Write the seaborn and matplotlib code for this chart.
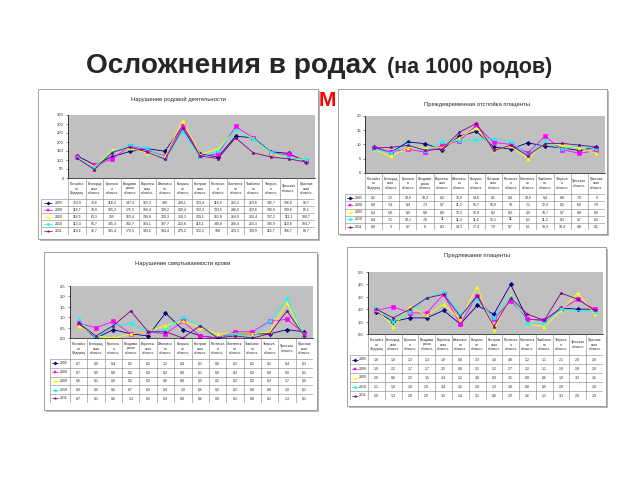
import numpy as np
import pandas as pd
import seaborn as sns
import matplotlib.pyplot as plt
from matplotlib.patches import Rectangle

sns.set_style("white")
plt.rcParams["font.family"] = ["Liberation Sans", "DejaVu Sans"]

years = ["2005", "2008", "2009", "2010", "2011"]
regions = ["Российск\nая\nФедерац", "Белгород\nская\nобласть", "Брянска\nя\nобласть",
           "Владими\nрская\nобласть", "Воронеж\nская\nобласть", "Ивановск\nая\nобласть",
           "Калужск\nая\nобласть", "Костром\nская\nобласть", "Рязанска\nя\nобласть",
           "Смоленск\nая\nобласть", "Тамбовск\nая\nобласть", "Тверска\nя\nобласть",
           "Тульская\nобласть", "Ярослав\nская\nобласть"]
series_colors = ["#000080", "#FF00FF", "#FFFF00", "#00FFFF", "#800080"]
series_markers = ["D", "s", "^", "X", "*"]

# Нарушение родовой деятельности
labor = [
    [123.9, 73.6, 118.3, 147.3, 162.3, 149, 289.1, 133.4, 116.8, 232.2, 223.6, 145.7, 136.8, 90.7],
    [116.7, 70.8, 105.3, 176.3, 156.4, 120.2, 290.4, 122.3, 133.6, 286.9, 222.6, 136.8, 130.6, 95.1],
    [116.5, 63.3, 155, 165.4, 138.8, 120.3, 318.3, 129.1, 162.8, 264.9, 220.4, 137.2, 111.1, 100.7],
    [113.4, 56.7, 145.3, 182.7, 164.1, 107.7, 253.6, 115.1, 149.8, 266.4, 215.1, 145.9, 110.8, 104.7],
    [110.6, 46.7, 141.4, 172.5, 143.6, 104.4, 275.2, 122.2, 108, 223.3, 139.9, 116.7, 106.7, 88.7],
]
# Преждевременная отслойка плаценты
abruption = [
    [9.2, 7.2, 10.9, 10.3, 8.2, 12.9, 14.6, 9.1, 8.4, 10.6, 9.4, 8.8, 7.9, 9],
    [8.9, 7.4, 8.4, 7.3, 9.7, 11.3, 16.7, 10.8, 10, 7.1, 12.9, 8.2, 6.9, 7.9],
    [8.4, 5.8, 8.9, 8.8, 8.9, 12.3, 15.8, 8.2, 9.3, 4.9, 10.7, 9.7, 8.8, 6.9],
    [8.4, 7.1, 10.1, 7.6, 11, 11.4, 11.6, 12.1, 11, 6.3, 11.2, 8.3, 9.7, 8.3],
    [8.8, 9, 9.7, 8, 8.3, 14.3, 17.4, 7.9, 9.7, 6.1, 10.3, 10.4, 9.8, 9.1],
]
# Нарушение свертываемости крови
coagulation = [
    [0.7, 0.0, 0.4, 0.2, 0.1, 1.2, 0.4, 0.1, 0.0, 0.2, 0.2, 0.2, 0.4, 0.3],
    [0.7, 0.5, 0.8, 0.2, 0.3, 0.2, 0.8, 0.1, 0.0, 0.3, 0.3, 0.8, 0.9, 0.2],
    [0.6, 0.1, 0.0, 0.2, 0.3, 0.6, 0.8, 0.5, 0.2, 0.2, 0.2, 0.3, 1.7, 0.0],
    [0.9, 0.0, 0.6, 0.7, 0.3, 0.4, 1.0, 0.6, 0.0, 0.2, 0.0, 0.8, 1.9, 0.1],
    [0.7, 0.1, 0.6, 1.3, 0.3, 0.3, 0.0, 0.6, 0.0, 0.1, 0.0, 0.2, 1.3, 0.1],
]
# Предлежание плаценты
previa = [
    [1.8, 1.0, 1.3, 1.3, 1.9, 0.8, 2.3, 1.6, 4.0, 1.2, 1.1, 2.1, 2.0, 2.0],
    [1.9, 2.2, 1.7, 1.7, 3.2, 0.8, 3.1, 1.2, 2.7, 1.2, 1.1, 2.0, 2.8, 2.0],
    [2.0, 0.6, 2.2, 1.5, 2.4, 1.2, 3.8, 0.3, 3.1, 0.8, 0.6, 1.9, 3.3, 1.6],
    [2.1, 1.0, 1.8, 2.9, 3.4, 1.6, 2.8, 1.3, 3.0, 0.8, 0.9, 2.0, np.nan, 1.8],
    [2.0, 1.3, 2.0, 2.9, 3.2, 1.4, 3.1, 0.6, 2.9, 1.6, 1.1, 3.3, 2.8, 1.9],
]

W, H = 640, 480
fig = plt.figure(figsize=(6.4, 4.8), dpi=100)
fig.patch.set_facecolor("white")


def add_ax(x0, y0, x1, y1):
    return fig.add_axes([x0 / W, 1 - y1 / H, (x1 - x0) / W, (y1 - y0) / H])


def fmt_general(v):
    if np.isnan(v):
        return ""
    if float(v).is_integer():
        return str(int(v))
    return ("%.1f" % v).replace(".", ",")


def fmt_one(v):
    if np.isnan(v):
        return ""
    return ("%.1f" % v).replace(".", ",")


def draw_chart(title, values, box, plot, title_xy, tab_left, header_h, row_h,
               ymax, ystep, tick_fmt, val_fmt):
    bx0, by0, bx1, by1 = box
    fig.patches.append(Rectangle((bx0 / W + 2 / W, 1 - by1 / H - 2 / H), (bx1 - bx0) / W,
                                 (by1 - by0) / H, transform=fig.transFigure,
                                 facecolor="#b8b8b8", edgecolor="none", zorder=-2))
    fig.patches.append(Rectangle((bx0 / W, 1 - by1 / H), (bx1 - bx0) / W, (by1 - by0) / H,
                                 transform=fig.transFigure, facecolor="white",
                                 edgecolor="#909090", lw=0.6, zorder=-1))
    fig.text(title_xy[0] / W, 1 - title_xy[1] / H, title, ha="center", va="center",
             fontsize=4.2)

    px0, py0, px1, py1 = plot
    ax = add_ax(px0, py0, px1, py1)
    df = pd.DataFrame({
        "pos": np.tile(np.arange(len(regions)), len(years)),
        "value": np.concatenate([np.asarray(v, dtype=float) for v in values]),
        "year": np.repeat(years, len(regions)),
    })
    sns.lineplot(data=df, x="pos", y="value", hue="year", style="year",
                 palette=dict(zip(years, series_colors)),
                 markers=dict(zip(years, series_markers)), dashes=False,
                 lw=0.6, markersize=2.3, markeredgecolor="auto",
                 markeredgewidth=0.4, legend=False, ax=ax)
    ax.set_facecolor("#C0C0C0")
    ax.set_xlim(-0.5, len(regions) - 0.5)
    ax.set_ylim(0, ymax)
    ticks = np.arange(0, ymax + ystep / 2, ystep)
    ax.set_yticks(ticks)
    ax.set_yticklabels([tick_fmt(t) for t in ticks], fontsize=3)
    ax.set_xticks([])
    ax.set_xlabel("")
    ax.set_ylabel("")
    ax.tick_params(axis="y", length=1.5, width=0.4, pad=1.5, left=True)
    for s in ["top", "right"]:
        ax.spines[s].set_visible(False)
    for s in ["left", "bottom"]:
        ax.spines[s].set_color("black")
        ax.spines[s].set_linewidth(0.5)

    # data table under the plot
    n = len(regions)
    total_h = header_h + row_h * len(years)
    tab = add_ax(tab_left, py1, px1, py1 + total_h)
    col_w = (px1 - px0) / n
    lab_w = (px0 - tab_left) / col_w
    left = -0.5 - lab_w
    tab.set_xlim(left, n - 0.5)
    tab.set_ylim(total_h, 0)
    tab.axis("off")
    lc, lw = "#808080", 0.4
    for k in range(n + 1):
        tab.plot([k - 0.5, k - 0.5], [0, total_h], color=lc, lw=lw)
    tab.plot([left, left], [header_h, total_h], color=lc, lw=lw)
    for r in range(len(years) + 1):
        yy = header_h + r * row_h
        tab.plot([left, n - 0.5], [yy, yy], color=lc, lw=lw)
    for i, name in enumerate(regions):
        tab.text(i, header_h / 2, name, ha="center", va="center", fontsize=2.4,
                 linespacing=1.05)
    for r, (yr, vals) in enumerate(zip(years, values)):
        yc = header_h + (r + 0.5) * row_h
        ka, kb = left + 0.1 * lab_w, left + 0.42 * lab_w
        tab.plot([ka, kb], [yc, yc], color=series_colors[r], lw=0.5)
        tab.plot([(ka + kb) / 2], [yc], color=series_colors[r],
                 marker=series_markers[r], markersize=1.7, markeredgewidth=0.3)
        tab.text(left + 0.5 * lab_w, yc, yr, ha="left", va="center", fontsize=2.5)
        for i, v in enumerate(vals):
            tab.text(i, yc, val_fmt(v), ha="center", va="center", fontsize=2.5)


fig.text(377 / W, 1 - 73 / H, "Осложнения в родах", ha="right", va="baseline",
         fontsize=20.2, weight="bold")
fig.text(387 / W, 1 - 73 / H, "(на 1000 родов)", ha="left", va="baseline",
         fontsize=15.5, weight="bold")
fig.text(319 / W, 1 - 106 / H, "М", ha="left", va="baseline", fontsize=15,
         weight="bold", color="#FF0000", zorder=-3)

draw_chart("Нарушение родовой деятельности", labor,
           box=(38, 89, 318, 239), plot=(68, 115, 315, 178), title_xy=(178, 99),
           tab_left=41, header_h=21, row_h=7.1, ymax=350, ystep=50,
           tick_fmt=lambda t: "%d" % t, val_fmt=fmt_general)
draw_chart("Преждевременная отслойка плаценты", abruption,
           box=(338, 89, 607, 234), plot=(365, 116, 605, 173), title_xy=(477, 104),
           tab_left=345, header_h=21, row_h=7.25, ymax=20, ystep=5,
           tick_fmt=lambda t: "%d" % t, val_fmt=fmt_general)
draw_chart("Нарушение свертываемости крови", coagulation,
           box=(44, 252, 317, 410), plot=(70, 286, 313, 338), title_xy=(183, 264),
           tab_left=50, header_h=21, row_h=8.75, ymax=2.5, ystep=0.5,
           tick_fmt=lambda t: ("%.1f" % t).replace(".", ","), val_fmt=fmt_one)
draw_chart("Предлежание плаценты", previa,
           box=(347, 247, 606, 406), plot=(368, 272, 603, 334), title_xy=(477, 255),
           tab_left=350, header_h=21, row_h=9, ymax=5, ystep=1,
           tick_fmt=lambda t: ("%.1f" % t).replace(".", ","), val_fmt=fmt_one)

fig.savefig("out.png", dpi=100, facecolor="white")
